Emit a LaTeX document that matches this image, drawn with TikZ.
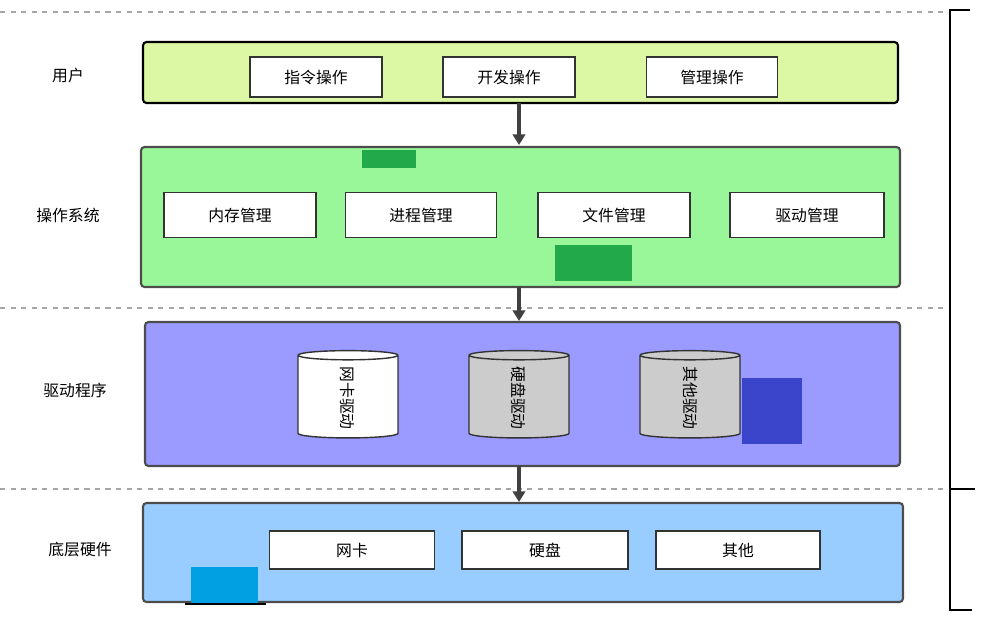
\documentclass[tikz,border=0pt]{standalone}
\usepackage{fontspec}
\newfontfamily\cjk{Noto Sans CJK SC}
\usetikzlibrary{shapes.geometric,arrows.meta}
\definecolor{userfill}{HTML}{DDF8A4}
\definecolor{osfill}{HTML}{99F799}
\definecolor{drvfill}{HTML}{9A9AFF}
\definecolor{hwfill}{HTML}{9ACDFF}
\definecolor{patchgreen}{HTML}{22AA4A}
\definecolor{patchblue}{HTML}{3A45CC}
\definecolor{patchcyan}{HTML}{00A0E2}
\tikzset{
  layer/.style={draw=black!70, line width=1.2pt, rounded corners=2pt},
  item/.style={draw=black!80, fill=white, line width=0.8pt, font=\cjk\fontsize{9}{11}\selectfont},
  drum/.style={cylinder, shape border rotate=180, rotate=-90, draw=black!80, line width=0.8pt,
    minimum width=2cm, minimum height=1.48cm, aspect=0.35, font=\cjk\fontsize{9}{11}\selectfont},
  side/.style={font=\cjk\fontsize{9}{11}\selectfont},
  sep/.style={gray!70, dashed, line width=0.6pt},
  flow/.style={-{Triangle[length=6pt,width=7pt]}, line width=1.8pt, black!75}
}
\begin{document}
\begin{tikzpicture}[x=0.02cm,y=-0.02cm]
        \useasboundingbox (0,0) rectangle (987,620);

        % Dashed separators
        \draw[sep] (0,12) -- (945,12);
        \draw[sep] (0,308) -- (945,308);
        \draw[sep] (0,489) -- (945,489);

        % Right bracket
        \draw[line width=1pt] (970,10) -- (950,10) -- (950,610) -- (972,610);
        \draw[line width=1pt] (950,489) -- (975,489);

        % Side labels
        \node[side] (lu) at (68,75) {用户};
        \node[side] (lo) at (68,215) {操作系统};
        \node[side] (ld) at (75,390) {驱动程序};
        \node[side] (lh) at (80,550) {底层硬件};

        % User layer
        \draw[layer, draw=black, fill=userfill] (143,42) rectangle (898,103);
        \node[item, minimum width=2.64cm, minimum height=0.8cm] (cmd) at (316,77) {指令操作};
        \node[item, minimum width=2.64cm, minimum height=0.8cm] (dev) at (509,77) {开发操作};
        \node[item, minimum width=2.62cm, minimum height=0.8cm] (mgr) at (712,77) {管理操作};

        % Operating system layer
        \draw[layer, fill=osfill] (141,147) rectangle (900,287);
        \fill[patchgreen] (362,150) rectangle (416,168);
        \node[item, minimum width=3.04cm, minimum height=0.9cm] (mem) at (240,215) {内存管理};
        \node[item, minimum width=3.02cm, minimum height=0.9cm] (proc) at (421,215) {进程管理};
        \node[item, minimum width=3.04cm, minimum height=0.9cm] (file) at (614,215) {文件管理};
        \node[item, minimum width=3.08cm, minimum height=0.9cm] (drv) at (807,215) {驱动管理};
        \fill[patchgreen] (555,245) rectangle (632,281);

        % Driver layer
        \draw[layer, fill=drvfill] (145,322) rectangle (900,466);
        \node[drum, fill=white] (nicd) at (348,398) {网卡驱动};
        \node[drum, fill=black!20] (hddd) at (519,398) {硬盘驱动};
        \node[drum, fill=black!20] (othd) at (690,398) {其他驱动};
        \fill[patchblue] (742,378) rectangle (802,444);

        % Hardware layer
        \draw[layer, fill=hwfill] (143,503) rectangle (903,602);
        \node[item, minimum width=3.3cm, minimum height=0.76cm] (nic) at (352,550) {网卡};
        \node[item, minimum width=3.32cm, minimum height=0.76cm] (hdd) at (545,550) {硬盘};
        \node[item, minimum width=3.28cm, minimum height=0.76cm] (oth) at (738,550) {其他};
        \fill[patchcyan] (191,567) rectangle (258,603);
        \draw[line width=1pt] (185,604) -- (266,604);

        % Flow between layers
        \coordinate (a1) at (519,103); \coordinate (b1) at (519,145);
        \coordinate (a2) at (519,287); \coordinate (b2) at (519,321);
        \coordinate (a3) at (519,466); \coordinate (b3) at (519,502);
        \draw[flow] (a1) -- (b1);
        \draw[flow] (a2) -- (b2);
        \draw[flow] (a3) -- (b3);
\end{tikzpicture}
\end{document}
